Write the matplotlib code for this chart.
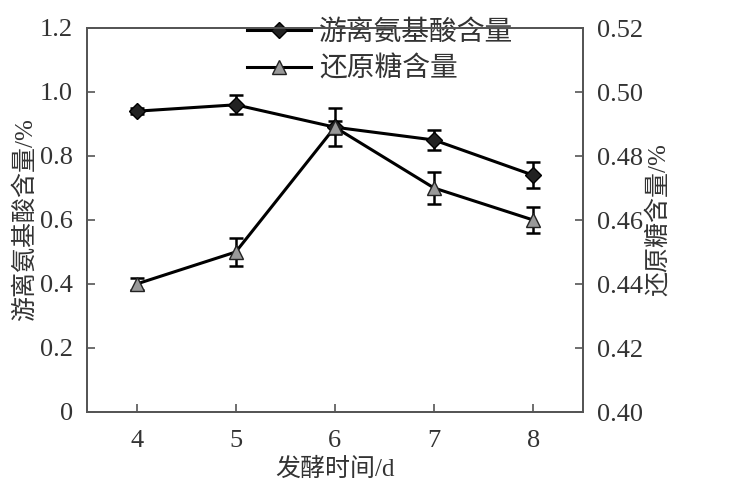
import matplotlib.pyplot as plt

plt.rcParams['font.family'] = ['Liberation Serif', 'Noto Sans CJK SC']

days = [4, 5, 6, 7, 8]
amino = [0.94, 0.96, 0.89, 0.85, 0.74]
amino_err = [0.01, 0.03, 0.02, 0.03, 0.04]
sugar = [0.440, 0.450, 0.489, 0.470, 0.460]
sugar_err = [0.002, 0.0045, 0.006, 0.005, 0.004]

left_ticks = [0, 0.2, 0.4, 0.6, 0.8, 1.0, 1.2]
left_labels = ['0', '0.2', '0.4', '0.6', '0.8', '1.0', '1.2']
right_ticks = [0.40, 0.42, 0.44, 0.46, 0.48, 0.50, 0.52]
right_labels = ['0.40', '0.42', '0.44', '0.46', '0.48', '0.50', '0.52']

fig = plt.figure(figsize=(7.5, 5), dpi=100)
ax1 = fig.add_axes([0.116, 0.176, 0.661, 0.768])
ax2 = ax1.twinx()

tc = '#333333'
l1 = ax1.errorbar(days, amino, yerr=amino_err, color='black', marker='D', markersize=8,
                  lw=2.2, capsize=5, elinewidth=1.8, capthick=1.8,
                  markerfacecolor='#222222', label='游离氨基酸含量')
l2 = ax2.errorbar(days, sugar, yerr=sugar_err, color='black', marker='^', markersize=10,
                  lw=2.2, capsize=5, elinewidth=1.8, capthick=1.8,
                  markerfacecolor='#999999', markeredgecolor='#222222', label='还原糖含量')

ax1.set_xlim(3.5, 8.5)
ax1.set_ylim(0, 1.2)
ax2.set_ylim(0.40, 0.52)
ax1.set_xticks(days)
ax1.set_yticks(left_ticks)
ax1.set_yticklabels(left_labels)
ax2.set_yticks(right_ticks)
ax2.set_yticklabels(right_labels)

for ax in (ax1, ax2):
    ax.tick_params(direction='in', length=6, width=1.2, colors='#555555',
                   labelcolor=tc, labelsize=19, pad=10)
    for s in ax.spines.values():
        s.set_color('#555555')
        s.set_linewidth(1.3)

ax1.tick_params(axis='x', pad=13)
ax1.set_xlabel('发酵时间/d', fontsize=18, color=tc, labelpad=4)
ax1.set_ylabel('游离氨基酸含量/%', fontsize=18, color=tc, labelpad=2)
ax2.set_ylabel('还原糖含量/%', fontsize=18, color=tc, labelpad=2)

leg = ax1.legend(handles=[l1[0], l2[0]], labels=['游离氨基酸含量', '还原糖含量'],
                 loc='upper left', bbox_to_anchor=(0.3, 1.05),
                 frameon=False, fontsize=20, handlelength=2.3, handletextpad=0.3,
                 labelspacing=0.4, borderaxespad=0)
for t in leg.get_texts():
    t.set_color(tc)

fig.savefig('out.png', dpi=100)
